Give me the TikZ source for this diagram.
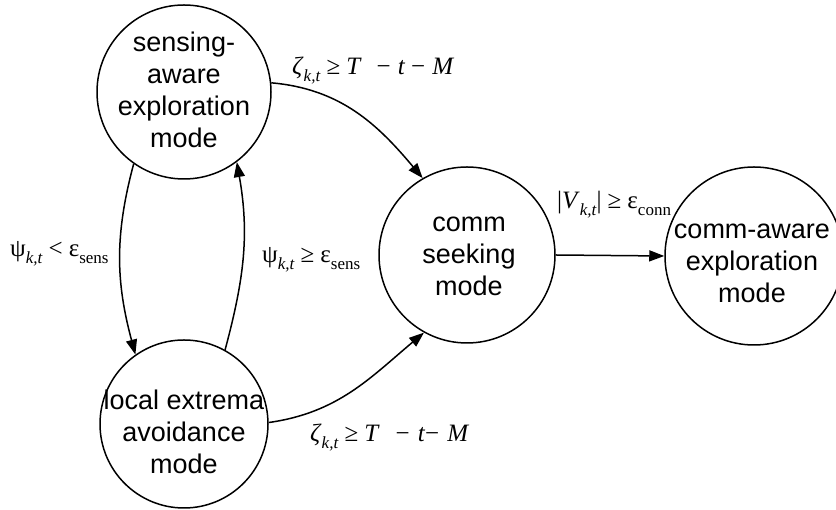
\documentclass[tikz,border=0pt]{standalone}
\usepackage{fontspec}
\setmainfont{Liberation Sans}
\newfontfamily\mf{Liberation Serif}
\usetikzlibrary{arrows.meta}
\newcommand{\subs}[1]{\raisebox{-0.28em}{\fontsize{17}{17}\selectfont #1}}
\newcommand{\rl}[1]{\hspace{6pt}#1\hspace{6pt}}
\begin{document}
\begin{tikzpicture}[x=1pt,y=1pt,
  state/.style={draw, circle, line width=1.5pt, inner sep=0pt},
  statetext/.style={align=center, inner sep=0pt, font=\fontsize{27}{32}\selectfont},
  trans/.style={line width=1.5pt, -{Triangle[length=15pt,width=11pt]}},
  lbl/.style={anchor=base west, inner sep=0pt, font=\mf\fontsize{25}{28}\selectfont}]
\useasboundingbox (0,0) rectangle (836,510);
\node[state, minimum size=174pt] (A) at (184,418) {};
\node[state, minimum size=168pt] (B) at (184,86) {};
\node[state, minimum size=176pt] (C) at (467,255) {};
\node[state, minimum size=178pt] (D) at (754,254) {};
\node[statetext] (At) at (184,420.5) {sensing-\\aware\\exploration\\mode};
\node[statetext] (Bt) at (184,78) {local extrema\\avoidance\\mode};
\node[statetext] (Ct) at (469,253.5) {comm\\seeking\\mode};
\node[statetext] (Dt) at (752,246.5) {comm-aware\\exploration\\mode};
\draw[trans] (A.6) to[out=-5,in=130] (C.120);
\draw[trans] (A.235) to[out=-105,in=105] (B.125);
\draw[trans] (B.61) to[out=75,in=-80] (A.-53);
\draw[trans] (B.1) to[out=8,in=-140] (C.241);
\draw[trans] (C.east) -- (D.west);
\node[lbl] (l1) at (292,435) {\textit{ζ}\subs{\textit{k,t}}\rl{≥}\textit{T}\hspace{15pt}−\hspace{7pt}\textit{t}\hspace{6pt}−\hspace{7pt}\textit{M}};
\node[lbl] (l2) at (10,253) {ψ\subs{\textit{k,t}}\rl{<}ε\subs{sens}};
\node[lbl] (l3) at (262,247) {ψ\subs{\textit{k,t}}\rl{≥}ε\subs{sens}};
\node[lbl] (l4) at (310,68) {\textit{ζ}\subs{\textit{k,t}}\rl{≥}\textit{T}\hspace{16pt}−\hspace{8pt}\textit{t}−\hspace{8pt}\textit{M}};
\node[lbl] (l5) at (557,301) {|\textit{V}\subs{\textit{k,t}}|\rl{≥}ε\subs{conn}};
\end{tikzpicture}
\end{document}
